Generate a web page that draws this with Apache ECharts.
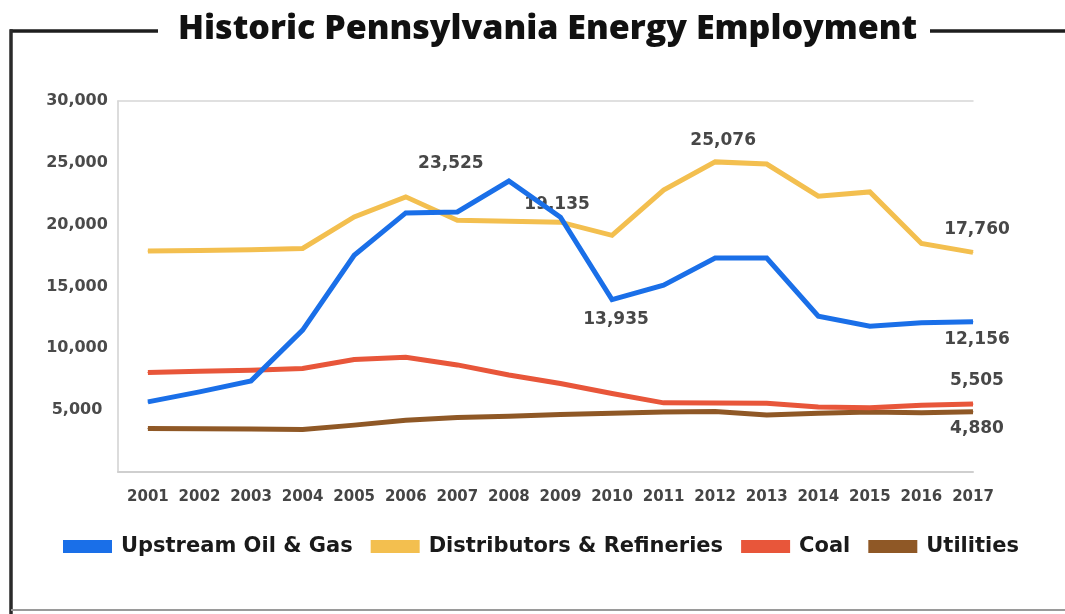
<!DOCTYPE html>
<html>
<head>
<meta charset="utf-8">
<script src="https://cdn.jsdelivr.net/npm/echarts@6/dist/echarts.min.js"></script>
<style>
  html, body { margin: 0; padding: 0; background: #ffffff; }
  #chart { width: 1065px; height: 614px; }
</style>
</head>
<body>
<div id="chart"></div>
<script>
// ---- data ----
const titleText = 'Historic Pennsylvania Energy Employment';
const years = [2001, 2002, 2003, 2004, 2005, 2006, 2007, 2008, 2009, 2010, 2011, 2012, 2013, 2014, 2015, 2016, 2017];
const seriesNames = ['Upstream Oil & Gas', 'Distributors & Refineries', 'Coal', 'Utilities'];
const upstreamOilGas = [5670, 6480, 7370, 11470, 17530, 20950, 21030, 23525, 20600, 13935, 15110, 17310, 17300, 12600, 11790, 12060, 12156];
const distributorsRefineries = [17880, 17920, 17970, 18075, 20630, 22250, 20360, 20280, 20200, 19135, 22790, 25076, 24900, 22300, 22650, 18480, 17760];
const coal = [8050, 8150, 8230, 8370, 9100, 9280, 8660, 7850, 7160, 6350, 5590, 5570, 5550, 5265, 5190, 5400, 5505];
const utilities = [3520, 3500, 3470, 3440, 3790, 4190, 4400, 4500, 4650, 4750, 4850, 4900, 4600, 4750, 4850, 4800, 4880];
const yTicks = [0, 5000, 10000, 15000, 20000, 25000, 30000];

// ---- styling (not data) ----
const colors = ['#1a6fe8', '#f3bf4f', '#e8563a', '#8f5826'];
const labelFont = 'DejaVu Sans';
// which points carry a value label, and where the label sits relative to the point
const labelSpots = {
  0: { 2008: [-58, -17], 2010: [4, 20], 2017: [4, 18] },
  1: { 2010: [-55, -31], 2012: [8, -21], 2017: [4, -23] },
  2: { 2017: [4, -23] },
  3: { 2017: [4, 17] }
};

const allValues = [upstreamOilGas, distributorsRefineries, coal, utilities];

function fmt(v) { return v.toLocaleString('en-US'); }

const series = allValues.map((vals, si) => ({
  name: seriesNames[si],
  type: 'line',
  xAxisIndex: 0,
  data: vals.map((v, i) => {
    const spot = labelSpots[si][years[i]];
    const item = { value: [years[i], v] };
    if (spot) {
      item.label = {
        show: true,
        position: 'inside',
        offset: spot,
        formatter: () => fmt(v),
        fontFamily: labelFont,
        fontWeight: 'bold',
        fontSize: 17,
        color: '#474747'
      };
    }
    return item;
  }),
  symbol: 'circle',
  symbolSize: 1,
  showSymbol: true,
  lineStyle: { width: 5, color: colors[si], cap: 'butt', join: 'miter' },
  itemStyle: { color: colors[si] },
  label: { show: false },
  emphasis: { disabled: true },
  z: 10 - si,
  animation: false
}));

const chart = echarts.init(document.getElementById('chart'), null, { renderer: 'canvas' });

chart.setOption({
  animation: false,
  backgroundColor: '#ffffff',
  color: colors,
  title: {
    text: titleText,
    left: 173,
    top: 7,
    textStyle: {
      fontFamily: 'Open Sans',
      fontWeight: 800,
      fontSize: 34,
      color: '#111111'
    }
  },
  graphic: [
    { type: 'line', shape: { x1: 10, y1: 31, x2: 158, y2: 31 }, style: { stroke: '#1e1e1e', lineWidth: 3.5 } },
    { type: 'line', shape: { x1: 930, y1: 31, x2: 1065, y2: 31 }, style: { stroke: '#1e1e1e', lineWidth: 3.5 } },
    { type: 'line', shape: { x1: 11, y1: 29.25, x2: 11, y2: 614 }, style: { stroke: '#2a2a2a', lineWidth: 3.5 } },
    { type: 'line', shape: { x1: 11, y1: 610, x2: 1065, y2: 610 }, style: { stroke: '#9a9a9a', lineWidth: 2 } }
  ],
  legend: {
    data: seriesNames,
    left: 58,
    top: 531,
    icon: 'rect',
    itemWidth: 49,
    itemHeight: 13,
    itemGap: 18,
    textStyle: {
      fontFamily: labelFont,
      fontWeight: 'bold',
      fontSize: 21,
      color: '#1a1a1a',
      padding: [0, 0, 0, 4]
    }
  },
  grid: {
    left: 118,
    right: 92,
    top: 101,
    bottom: 142,
    containLabel: false
  },
  xAxis: [
    {
      type: 'value',
      position: 'bottom',
      min: 2000.42,
      max: 2017,
      offset: 5,
      axisLine: { show: true, lineStyle: { color: '#cfcfcf', width: 2 } },
      axisTick: { show: false },
      splitLine: { show: false },
      axisLabel: {
        customValues: years,
        formatter: v => String(v),
        fontFamily: labelFont,
        fontWeight: 'bold',
        fontSize: 15,
        color: '#454545',
        margin: 13
      }
    },
    {
      type: 'value',
      position: 'top',
      min: 2000.42,
      max: 2017,
      axisLine: { show: true, lineStyle: { color: '#d6d6d6', width: 1.5 } },
      axisTick: { show: false },
      axisLabel: { show: false },
      splitLine: { show: false }
    }
  ],
  yAxis: {
    type: 'value',
    min: yTicks[0],
    max: yTicks[yTicks.length - 1],
    interval: yTicks[1] - yTicks[0],
    axisLine: { show: true, lineStyle: { color: '#d0d0d0', width: 1.5 } },
    axisTick: { show: false },
    splitLine: { show: false },
    axisLabel: {
      showMinLabel: false,
      align: 'center',
      margin: 41,
      formatter: v => fmt(v),
      fontFamily: labelFont,
      fontWeight: 'bold',
      fontSize: 16,
      color: '#4a4a4a'
    }
  },
  series: series
});
</script>
</body>
</html>
